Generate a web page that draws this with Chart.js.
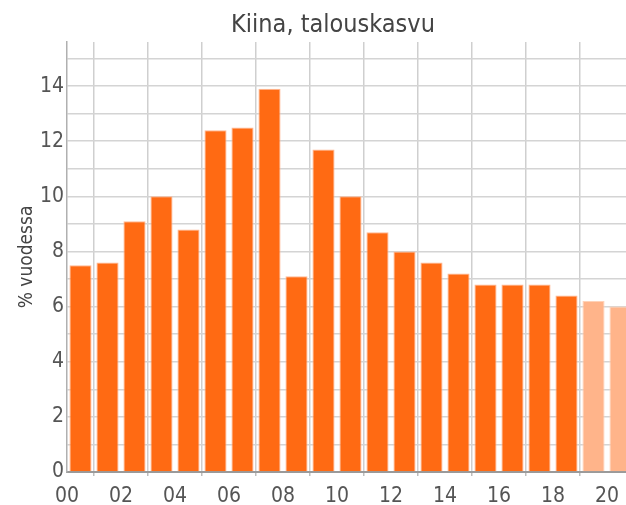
<!DOCTYPE html>
<html>
<head>
<meta charset="utf-8">
<script src="https://cdn.jsdelivr.net/npm/chart.js@4.4.1/dist/chart.umd.min.js"></script>
<style>
  html, body { margin: 0; padding: 0; overflow: hidden; background: #fff; }
  #wrap { width: 640px; height: 505px; }
</style>
</head>
<body>
<div id="wrap"><canvas id="chart"></canvas></div>
<script>
// Data
const years = [2000, 2001, 2002, 2003, 2004, 2005, 2006, 2007, 2008, 2009, 2010,
               2011, 2012, 2013, 2014, 2015, 2016, 2017, 2018, 2019, 2020];
const growth = [7.5, 7.6, 9.1, 10.0, 8.8, 12.4, 12.5, 13.9, 7.1, 11.7, 10.0,
                8.7, 8.0, 7.6, 7.2, 6.8, 6.8, 6.8, 6.4, 6.2, 6.0];
const forecast = [false, false, false, false, false, false, false, false, false, false, false,
                  false, false, false, false, false, false, false, false, true, true];
const xTicks = [0, 2, 4, 6, 8, 10, 12, 14, 16, 18, 20];
const xTickLabels = ['00', '02', '04', '06', '08', '10', '12', '14', '16', '18', '20'];
const yGrid = [0, 1, 2, 3, 4, 5, 6, 7, 8, 9, 10, 11, 12, 13, 14, 15];
const yTickLabels = ['0', '', '2', '', '4', '', '6', '', '8', '', '10', '', '12', '', '14', ''];

const FONT = "'DejaVu Sans Condensed', 'DejaVu Sans', sans-serif";
const TEXT = '#555555';

// title drawn at a fixed spot, as in the reference
const titlePlugin = {
    id: 'titleText',
    afterDraw(chart) {
        const ctx = chart.ctx;
        ctx.save();
        ctx.font = '25px ' + FONT;
        ctx.fillStyle = '#444444';
        ctx.textAlign = 'center';
        ctx.textBaseline = 'middle';
        ctx.fillText('Kiina, talouskasvu', 333, 25);
        ctx.restore();
    }
};

const ctx = document.getElementById('chart').getContext('2d');
new Chart(ctx, {
    type: 'bar',
    data: {
        datasets: [{
            data: years.map((y, i) => ({ x: (y - years[0]) + 0.5, y: growth[i] })),
            backgroundColor: forecast.map(f => f ? '#ffb48a' : '#ff6a13'),
            borderColor: forecast.map(f => f ? '#ffd2b8' : '#ffb894'),
            borderWidth: 1,
            borderSkipped: 'bottom',
            barPercentage: 0.82,
            categoryPercentage: 1
        }]
    },
    options: {
        responsive: true,
        maintainAspectRatio: false,
        animation: false,
        layout: { padding: { top: 42, right: 6, left: 0, bottom: 0 } },
        plugins: {
            legend: { display: false },
            tooltip: { enabled: false }
        },
        scales: {
            x: {
                type: 'linear',
                offset: false,
                min: 0,
                max: years.length,
                afterBuildTicks: axis => { axis.ticks = xTicks.map(v => ({ value: v })); },
                afterFit: scale => { scale.height = 33; },
                ticks: {
                    callback: (v) => xTickLabels[xTicks.indexOf(v)],
                    color: TEXT,
                    font: { family: FONT, size: 21 },
                    padding: 8,
                    maxRotation: 0
                },
                grid: {
                    color: '#cfcfcf',
                    lineWidth: 1.5,
                    tickLength: 4,
                    tickColor: '#bdbdbd'
                },
                border: { color: '#9a9a9a', width: 2 }
            },
            y: {
                min: 0,
                max: 15.6,
                afterBuildTicks: axis => { axis.ticks = yGrid.map(v => ({ value: v })); },
                afterFit: scale => { scale.width = 67; },
                ticks: {
                    callback: (v) => yTickLabels[yGrid.indexOf(v)],
                    color: TEXT,
                    font: { family: FONT, size: 21 },
                    padding: 3,
                    autoSkip: false
                },
                grid: {
                    color: '#d4d4d4',
                    lineWidth: 1.5,
                    drawTicks: false
                },
                border: { color: '#b0b0b0', width: 1.5 },
                title: {
                    display: true,
                    text: '% vuodessa',
                    color: '#444444',
                    font: { family: FONT, size: 19 },
                    padding: { top: 16, bottom: 0 }
                }
            }
        }
    },
    plugins: [titlePlugin]
});
</script>
</body>
</html>
